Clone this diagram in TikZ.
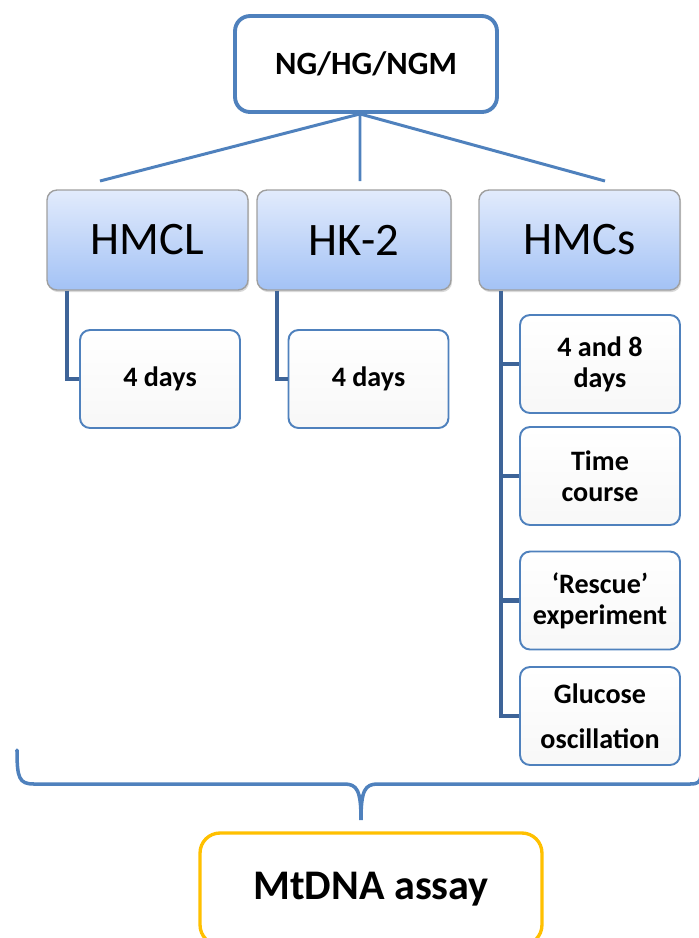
\documentclass[tikz,border=0pt]{standalone}
\usepackage{fontspec}
\setmainfont{Carlito}
\usetikzlibrary{shadows}

\definecolor{lineblue}{RGB}{79,129,189}
\definecolor{trunkblue}{RGB}{62,100,152}
\definecolor{celltop}{RGB}{226,235,252}
\definecolor{cellbot}{RGB}{163,194,245}
\definecolor{assaygold}{RGB}{255,192,0}

\begin{document}
\begin{tikzpicture}[x=0.02cm, y=-0.02cm,
    topbox/.style={draw=lineblue, line width=2.2pt, rounded corners=0.3cm, fill=white,
        minimum width=5.24cm, minimum height=1.92cm, font=\fontsize{18.5}{22}\selectfont\bfseries},
    cellbox/.style={draw=gray!75, line width=0.8pt, rounded corners=0.2cm,
        top color=celltop, bottom color=cellbot, minimum height=2cm,
        drop shadow={opacity=0.3, shadow xshift=0.6pt, shadow yshift=-1.2pt},
        font=\fontsize{26.5}{31}\selectfont},
    daybox/.style={draw=lineblue, line width=1.1pt, rounded corners=0.2cm,
        top color=white, bottom color=gray!6, minimum width=3.2cm, minimum height=1.96cm,
        align=center, font=\fontsize{16}{17.6}\selectfont\bfseries},
    assaybox/.style={draw=assaygold, line width=1.9pt, rounded corners=0.4cm, fill=white,
        minimum width=6.84cm, minimum height=2.24cm, font=\fontsize{24}{28}\selectfont\bfseries},
    branch/.style={draw=lineblue, line width=1.7pt},
    trunk/.style={draw=trunkblue, line width=2.4pt},
    brace/.style={draw=lineblue, line width=2pt, line cap=round}]
    \useasboundingbox (0,0) rectangle (699,938);
    \clip (0,0) rectangle (699,938);

    % treatment on top
    \node[topbox] (top) at (366,64) {NG/HG/NGM};

    % cell lines
    \node[cellbox, minimum width=4.02cm] (hmcl) at (147.5,240) {HMCL};
    \node[cellbox, minimum width=3.88cm] (hk) at (354,240) {HK-2};
    \node[cellbox, minimum width=4.02cm] (hmcs) at (579.5,240) {HMCs};

    \coordinate (hmclin) at (100,181);
    \coordinate (hkin) at (360,181);
    \coordinate (hmcsin) at (605,181);
    \draw[branch] ([xshift=-0.12cm]top.south) -- (hmclin);
    \draw[branch] ([xshift=-0.12cm]top.south) -- (hkin);
    \draw[branch] ([xshift=-0.12cm]top.south) -- (hmcsin);

    % experiments
    \node[daybox] (hmclday) at (160,379) {4 days};
    \node[daybox] (hkday) at (368.5,379) {4 days};
    \node[daybox] (hmcsa) at (600,364) {4 and 8\\days};
    \node[daybox] (hmcsb) at (600,476) {Time\\course};
    \node[daybox] (hmcsc) at (600,600.5) {‘Rescue’\\experiment};
    \node[daybox, font=\fontsize{16}{25.5}\selectfont\bfseries] (hmcsd) at (600,716) {Glucose\\oscillation};

    \draw[trunk] ([xshift=0.42cm]hmcl.south west) |- (hmclday.west);
    \draw[trunk] ([xshift=0.42cm]hk.south west) |- (hkday.west);
    \coordinate (hmcstrunk) at ([xshift=0.46cm]hmcs.south west);
    \draw[trunk] (hmcstrunk) |- (hmcsd.west);
    \foreach \c in {hmcsa,hmcsb,hmcsc}
        \draw[trunk] (hmcstrunk |- \c.west) -- (\c.west);

    % brace and assay
    \draw[brace] (17,750) .. controls (17,778) and (19,784) .. (34,784) -- (344,784)
        .. controls (357,784) and (361,790) .. (361,820)
        .. controls (361,790) and (365,784) .. (378,784) -- (690,784)
        .. controls (698,784) and (700,782) .. (701,776);
    \node[assaybox] (assay) at (371,889) {MtDNA assay};
\end{tikzpicture}
\end{document}
